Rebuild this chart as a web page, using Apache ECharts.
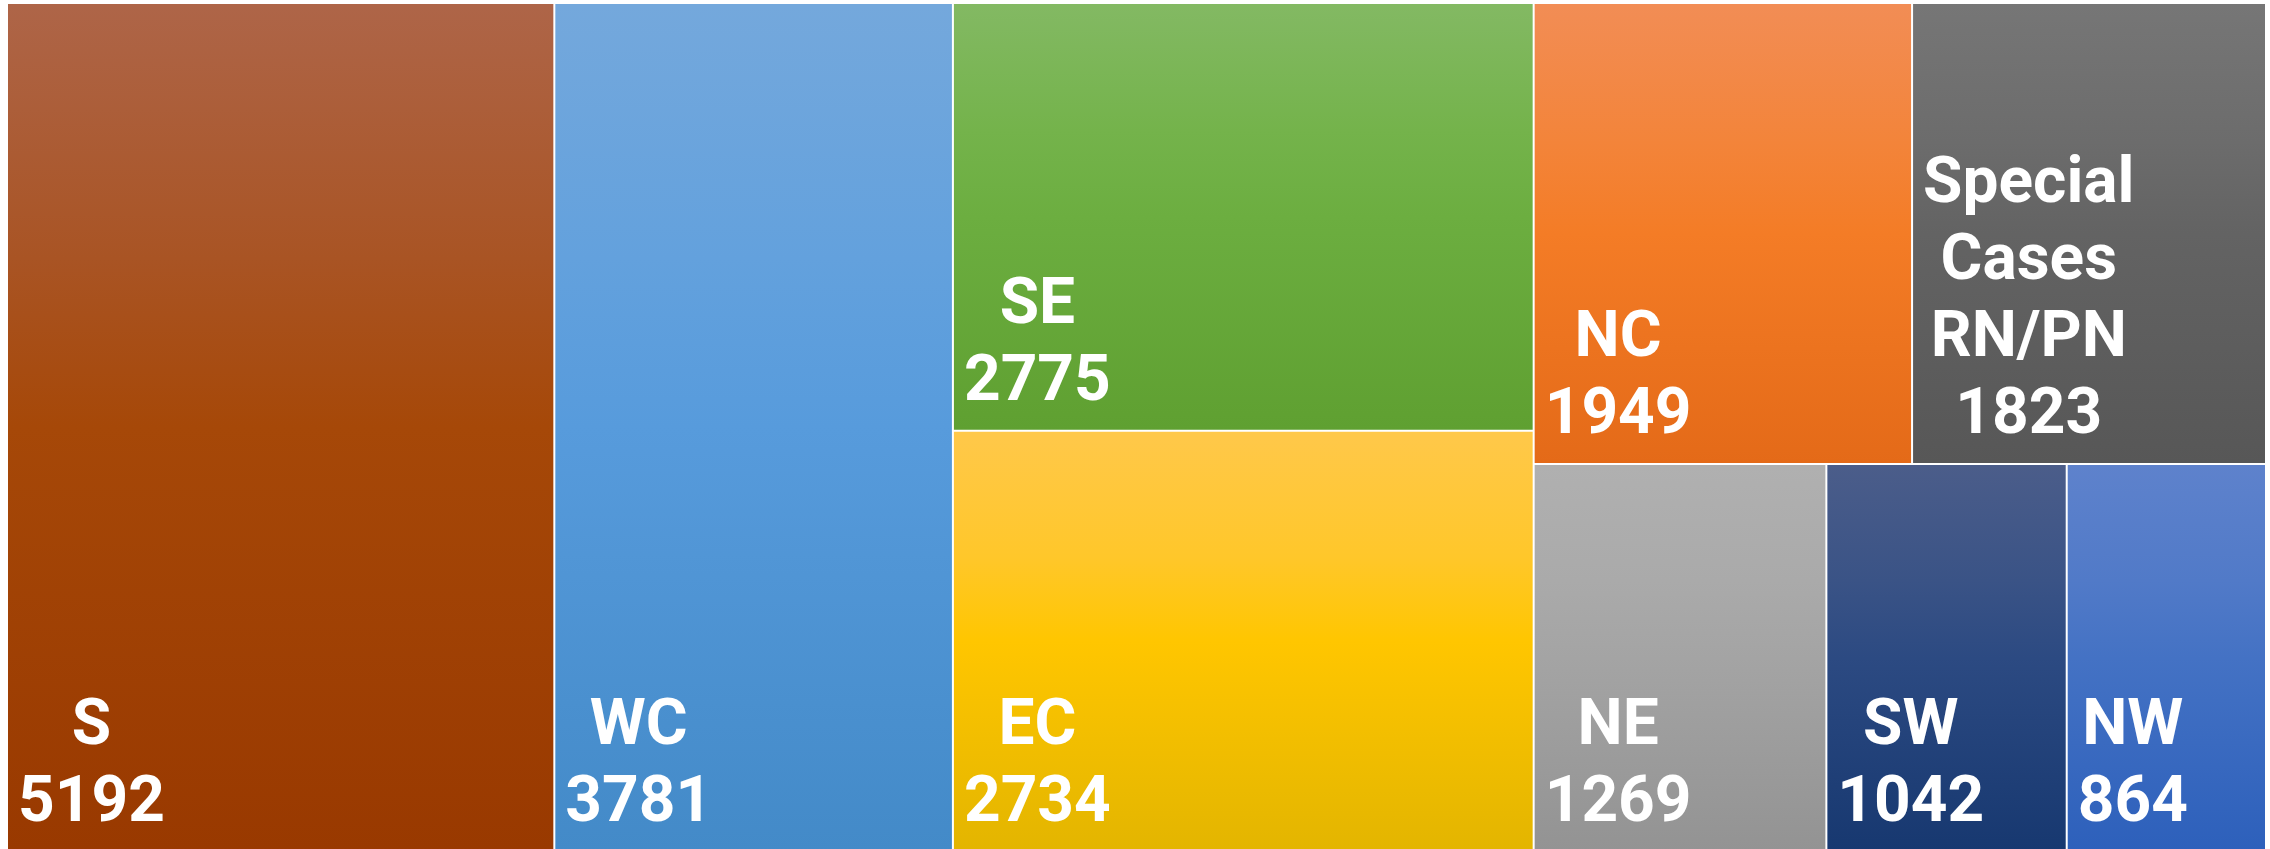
<!DOCTYPE html>
<html>
<head>
<meta charset="utf-8">
<script src="https://cdn.jsdelivr.net/npm/echarts@6/dist/echarts.min.js"></script>
<style>
  html, body { margin: 0; padding: 0; background: #ffffff; }
  #chart { width: 2270px; height: 849px; }
</style>
</head>
<body>
<div id="chart"></div>
<script>
// ---- data ----
const categories = ['S', 'WC', 'SE', 'EC', 'NC', 'Special Cases RN/PN', 'NE', 'SW', 'NW'];
const values = [5192, 3781, 2775, 2734, 1949, 1823, 1269, 1042, 864];

// grouping (indices into categories) that reproduces the reference arrangement
const groupTree = [0, 1, [2, 3], [[4, 5], [6, 7, 8]]];

// ---- styles ----
const gradientStops = [
  ['#AE6548', '#A95424', '#A64808', '#993900'], // S
  ['#74A8DC', '#63A1DD', '#579BDC', '#438AC8'], // WC
  ['#83B963', '#74B34B', '#6CAE40', '#5FA031'], // SE
  ['#FFC84A', '#FFC72A', '#FFC600', '#E3B500'], // EC
  ['#F28D55', '#F3843A', '#F47C26', '#E46A18'], // NC
  ['#767676', '#6C6C6C', '#636363', '#575757'], // Special
  ['#B0B0B0', '#AAAAAA', '#A4A4A4', '#939393'], // NE
  ['#4B5D8A', '#3A5386', '#2C4A82', '#173870'], // SW
  ['#5E82CC', '#517AC8', '#4472C4', '#2D60BB']  // NW
];
const stopPos = [0, 0.3, 0.5, 1];

const FONT_SIZE = 64;
const LINE_H = 77;
const FONT_FAMILY = 'Roboto';

const measureCtx = document.createElement('canvas').getContext('2d');
measureCtx.font = 'bold ' + FONT_SIZE + 'px ' + FONT_FAMILY;

function labelLines(i) {
  return categories[i].split(' ').concat([String(values[i])]);
}

function leaf(i) {
  const lines = labelLines(i);
  const w = Math.max.apply(null, lines.map(l => measureCtx.measureText(l).width));
  return {
    name: categories[i],
    value: values[i],
    itemStyle: {
      borderWidth: 1,
      borderColor: '#ffffff',
      gapWidth: 0,
      color: {
        type: 'linear', x: 0, y: 0, x2: 0, y2: 1,
        colorStops: gradientStops[i].map((c, k) => ({ offset: stopPos[k], color: c }))
      }
    },
    label: {
      offset: [10 + w / 2, -7.5]
    }
  };
}

function build(node) {
  if (typeof node === 'number') return leaf(node);
  return {
    name: '',
    children: node.map(build),
    itemStyle: { borderWidth: 0, gapWidth: 0, borderColor: '#ffffff' }
  };
}

const seriesData = groupTree.map(build);

const chart = echarts.init(document.getElementById('chart'), null, { renderer: 'canvas' });
chart.setOption({
  animation: false,
  backgroundColor: '#ffffff',
  tooltip: { show: false },
  series: [{
    type: 'treemap',
    left: 7,
    top: 3,
    width: 2259,
    height: 849,
    roam: false,
    nodeClick: false,
    sort: false,
    squareRatio: 1,
    visibleMin: 0,
    breadcrumb: { show: false },
    itemStyle: { borderWidth: 0, gapWidth: 0, borderColor: '#ffffff' },
    upperLabel: { show: false },
    label: {
      show: true,
      position: 'insideBottomLeft',
      distance: 0,
      padding: 0,
      align: 'center',
      color: '#ffffff',
      fontFamily: FONT_FAMILY,
      fontWeight: 'bold',
      fontSize: FONT_SIZE,
      lineHeight: LINE_H,
      formatter: function (p) {
        return p.name.split(' ').join('\n') + '\n' + p.value;
      }
    },
    emphasis: { disabled: true },
    data: seriesData
  }]
});
</script>
</body>
</html>
